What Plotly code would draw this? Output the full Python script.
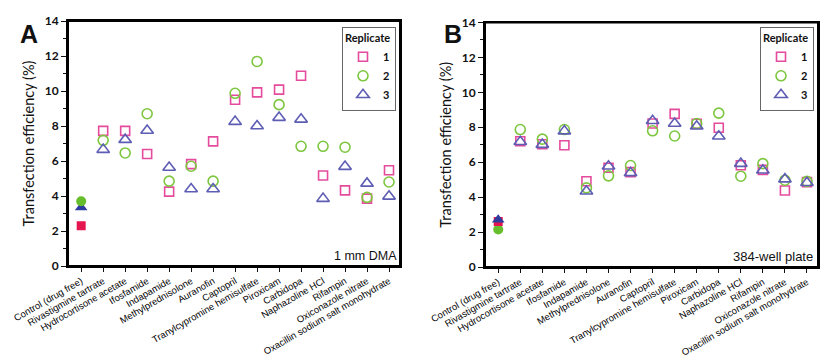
import plotly.graph_objects as go

categories = ["Control (drug free)", "Rivastigmine tartrate", "Hydrocortisone acetate", "Ifosfamide",
              "Indapamide", "Methylprednisolone", "Auranofin", "Captopril",
              "Tranylcypromine hemisulfate", "Piroxicam", "Carbidopa", "Naphazoline HCl",
              "Rifampin", "Oxiconazole nitrate", "Oxacillin sodium salt monohydrate"]

a_rep1 = [2.3, 7.72, 7.72, 6.4, 4.25, 5.82, 7.12, 9.5, 9.92, 10.08, 10.87, 5.17, 4.32, 3.85, 5.47]
a_rep2 = [3.7, 7.18, 6.46, 8.7, 4.85, 5.7, 4.85, 9.87, 11.69, 9.22, 6.84, 6.84, 6.79, 3.92, 4.8]
a_rep3 = [3.35, 6.65, 7.22, 7.74, 5.63, 4.4, 4.4, 8.25, 8.0, 8.48, 8.38, 3.85, 5.68, 4.72, 3.98]

b_rep1 = [2.6, 7.2, 7.03, 6.97, 4.91, 5.68, 5.43, 8.22, 8.77, 8.2, 7.97, 5.83, 5.56, 4.38, 4.86]
b_rep2 = [2.15, 7.87, 7.32, 7.87, 4.53, 5.22, 5.81, 7.8, 7.5, 8.22, 8.81, 5.2, 5.92, 4.97, 4.9]
b_rep3 = [2.7, 7.17, 7.01, 7.78, 4.34, 5.77, 5.39, 8.37, 8.22, 8.06, 7.49, 5.92, 5.54, 5.03, 4.82]

reps = ["1", "2", "3"]
open_syms = ["square-open", "circle-open", "triangle-up-open"]
fill_syms = ["square", "circle", "triangle-up"]
open_cols = ["#E54B9C", "#7DC63F", "#5E5DB4"]
fill_cols = ["#E5164F", "#67BE2C", "#2D3C9E"]
sizes = [9, 10, 11]

# page has an 8px body margin; figure sized to fit inside the window
W, H, OFF = 823, 356, 8


def px(x):
    return (x - OFF) / W


def py(y):
    return 1 - (y - OFF) / H


fig = go.Figure()

panels = [
    ("x", "y", "legend", [a_rep1, a_rep2, a_rep3]),
    ("x2", "y2", "legend2", [b_rep1, b_rep2, b_rep3]),
]
for xa, ya, lg, data in panels:
    for i, vals in enumerate(data):
        fig.add_trace(go.Scatter(
            x=categories[1:], y=vals[1:], mode="markers", name=reps[i],
            xaxis=xa, yaxis=ya, legend=lg,
            marker=dict(symbol=open_syms[i], size=sizes[i], color=open_cols[i],
                        line=dict(width=1.6, color=open_cols[i]))))
    order = [0, 2, 1] if xa == "x" else [1, 0, 2]
    for i in order:
        vals = data[i]
        fig.add_trace(go.Scatter(
            x=categories[:1], y=vals[:1], mode="markers", showlegend=False,
            xaxis=xa, yaxis=ya,
            marker=dict(symbol=fill_syms[i], size=sizes[i], color=fill_cols[i],
                        line=dict(width=0))))

tickfont_x = dict(family="Liberation Sans, Arial", size=9.5, color="#000")
xcommon = dict(type="category", categoryorder="array", categoryarray=categories,
               range=[-0.6, 14.5], tickangle=-30, tickfont=tickfont_x, automargin=False,
               showline=True, mirror=True, linecolor="#000", linewidth=2,
               ticks="outside", ticklen=4, tickcolor="#111", showgrid=False, zeroline=False)
ycommon = dict(range=[0, 14], dtick=2, showline=True, mirror=True, linecolor="#000",
               linewidth=2, ticks="outside", ticklen=5, tickcolor="#111", automargin=False,
               tickfont=dict(family="Lato, Open Sans", size=12, color="#111", weight="bold"),
               minor=dict(ticks="outside", ticklen=3, dtick=1, tickcolor="#111"),
               showgrid=False, zeroline=False,
               title=dict(text="Transfection efficiency (%)",
                          font=dict(family="Lato, Open Sans", size=14.5, color="#111"),
                          standoff=7))

fig.update_layout(
    template="none",
    width=W, height=H, margin=dict(l=0, r=0, t=0, b=0, autoexpand=False),
    paper_bgcolor="white", plot_bgcolor="white", showlegend=True,
    xaxis=dict(domain=[px(68), px(400)], anchor="y", **xcommon),
    yaxis=dict(domain=[py(266), py(21)], anchor="x", **ycommon),
    xaxis2=dict(domain=[px(485), px(818)], anchor="y2", **xcommon),
    yaxis2=dict(domain=[py(267), py(22.5)], anchor="x2", **ycommon),
)

for xr, yr in [("x domain", "y domain"), ("x2 domain", "y2 domain")]:
    fig.add_shape(type="rect", xref=xr, yref=yr, x0=0, x1=1, y0=0, y1=1,
                  line=dict(color="#000", width=2), fillcolor="rgba(0,0,0,0)", layer="above")

legend_common = dict(
    bgcolor="white", bordercolor="#666", borderwidth=1,
    font=dict(family="Lato, Open Sans", size=11, color="#111", weight="bold"),
    title=dict(text="Replicate", font=dict(family="Lato, Open Sans", size=11,
                                           color="#111", weight="bold")),
    xanchor="right", yanchor="top", itemwidth=30, tracegroupgap=0,
)
fig.update_layout(
    legend=dict(x=px(396), y=py(27), **legend_common),
    legend2=dict(x=px(814), y=py(27), **legend_common),
)

fig.add_annotation(text="1 mm DMA", xref="paper", yref="paper", x=px(399), y=py(265),
                   xanchor="right", yanchor="bottom", showarrow=False,
                   font=dict(family="Liberation Sans, Arial", size=12.5, color="#111"))
fig.add_annotation(text="384-well plate", xref="paper", yref="paper", x=px(815), y=py(266),
                   xanchor="right", yanchor="bottom", showarrow=False,
                   font=dict(family="Liberation Sans, Arial", size=13, color="#111"))
letter_font = dict(family="Liberation Sans, Arial", size=25, color="#111", weight="bold")
fig.add_annotation(text="A", xref="paper", yref="paper", x=px(18), y=py(18),
                   xanchor="left", yanchor="top", showarrow=False, font=letter_font)
fig.add_annotation(text="B", xref="paper", yref="paper", x=px(442), y=py(18),
                   xanchor="left", yanchor="top", showarrow=False, font=letter_font)

fig.write_html("out.html")
